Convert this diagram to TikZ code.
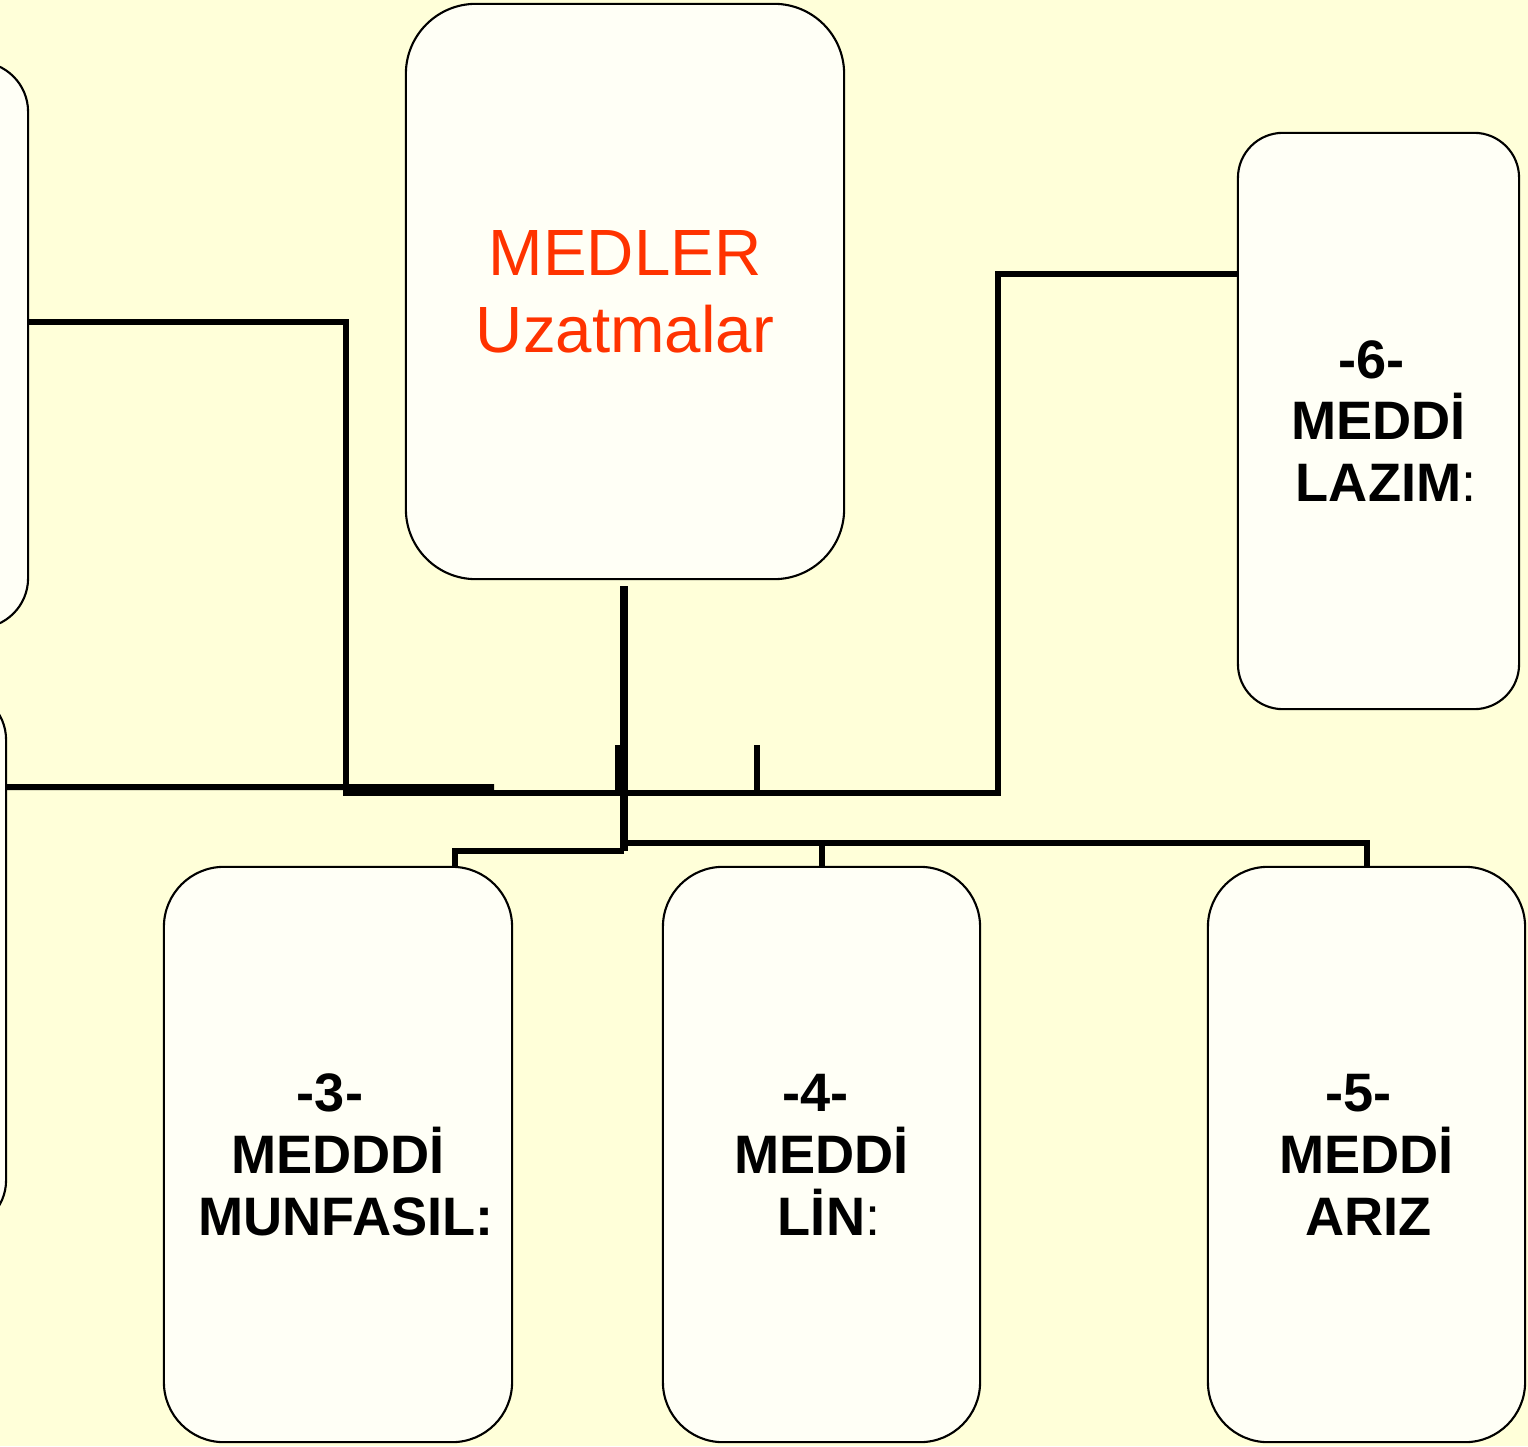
\documentclass[tikz,border=0pt]{standalone}
\usepackage{fontspec}
\setmainfont{Liberation Sans}
\usepackage{tikz}
\usetikzlibrary{positioning}
\definecolor{paper}{RGB}{255,255,217}
\definecolor{boxfill}{RGB}{255,255,246}
\definecolor{titlered}{RGB}{255,51,0}

\begin{document}
\begin{tikzpicture}[
  x=0.01cm,y=-0.01cm,
  font=\fontsize{15.4}{17.6}\selectfont\bfseries,
  medbox/.style={draw,fill=boxfill,line width=0.6pt,inner sep=0pt,align=center,minimum width=3.17cm,minimum height=5.75cm,rounded corners=0.6cm},
  link/.style={line width=1.7pt},
]

\fill[paper] (0,0) rectangle (1528,1446);
\useasboundingbox (0,0) rectangle (1528,1446);
\clip (0,0) rectangle (1528,1446);

\node[medbox,minimum width=4.38cm,rounded corners=0.7cm,font=\fontsize{18.6}{21.9}\selectfont,text=titlered] (medler) at (625,291.5) {MEDLER\\Uzatmalar};

\node[medbox,minimum width=2.81cm,minimum height=5.76cm,rounded corners=0.45cm] (m6) at (1378.5,421) {-6-\hspace*{0.14cm}\\MEDDİ\\\ LAZIM\textmd{:}};

\node[medbox,minimum width=3.48cm] (m3) at (338,1154.5) {-3-\hspace*{0.16cm}\\MEDDDİ\\\hspace*{0.16cm}MUNFASIL:};
\node[medbox] (m4) at (821.5,1154.5) {-4-\hspace*{0.12cm}\\MEDDİ\\\ LİN\textmd{:}};
\node[medbox] (m5) at (1366.5,1154.5) {-5-\hspace*{0.16cm}\\MEDDİ\\\hspace*{0.04cm}ARIZ};

% -1- and -2- lie off the page
\node[medbox,minimum width=3.2cm,minimum height=5.66cm,rounded corners=0.5cm] (m1) at (-132,345) {};
\node[medbox,minimum width=3.2cm,minimum height=5.4cm,rounded corners=0.5cm] (m2) at (-154,960) {};

\coordinate (hubL) at (346,793);
\coordinate (hubR) at (998,793);
\coordinate (j3) at (624,851);
\coordinate (j4) at (624,843);
\coordinate (stub) at (494,787);
\coordinate (t1) at (618,745);
\coordinate (t2) at (757,745);

\draw[link,line width=2.2pt] (medler.south) ++(-1,6) -- (j3);
\draw[link] (j3) -| (m3.68);
\draw[link] (j4) -| (m5.north);
\draw[link] (m4.north) -- (m4.north |- j4);

\draw[link] (m1.8.5) -| (hubL) -- (hubR) |- (m6.134);
\draw[link] (m2.47.2) -- (stub);

\draw[link] (t1) -- (t1 |- hubL);
\draw[link] (t2) -- (t2 |- hubL);

\end{tikzpicture}
\end{document}
